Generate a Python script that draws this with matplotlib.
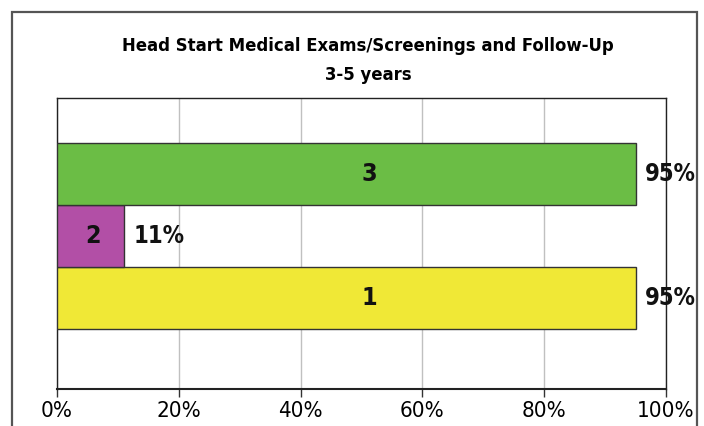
import matplotlib
matplotlib.use('Agg')
import matplotlib.pyplot as plt
import matplotlib.patches as patches
import numpy as np

categories = ["1", "2", "3"]
values = [95, 11, 95]
colors = ["#f0e836", "#b24fa6", "#6bbd45"]
ticks = [0, 20, 40, 60, 80, 100]
tick_labels = ["0%", "20%", "40%", "60%", "80%", "100%"]
title = "Head Start Medical Exams/Screenings and Follow-Up\n3-5 years"

fig = plt.figure(figsize=(7.04, 4.26), dpi=100)
ax = fig.add_axes([0.081, 0.087, 0.865, 0.683])

# outer frame of the chart (runs off the bottom)
fig.patches.append(patches.Rectangle((12/704, -0.1), 685/704, (426-12)/426 + 0.1,
                   transform=fig.transFigure, fill=False, edgecolor="#555555", linewidth=1.6))

y = np.arange(len(categories))
ax.barh(y, values, height=1.0, color=colors, edgecolor="#333333", linewidth=1.0, zorder=3)

for i, v in enumerate(values):
    ax.text(v * 0.54, y[i], categories[i], ha="center", va="center", fontsize=18,
            fontweight="bold", fontstretch="condensed", color="#111111", zorder=4)
    ax.text(v + 1.6, y[i], f"{v}%", ha="left", va="center", fontsize=17,
            fontweight="bold", fontstretch="condensed", color="#111111", zorder=4)

ax.set_xlim(0, 100)
ax.set_ylim(-1.46, 3.23)
ax.set_xticks(ticks)
ax.set_xticklabels(tick_labels, fontstretch="condensed", fontsize=16)
ax.set_yticks([])
ax.tick_params(axis="x", length=6, width=1, color="#333333", pad=3)
ax.grid(axis="x", color="#c0c0c0", linewidth=1, zorder=0)
for s in ax.spines.values():
    s.set_color("#222222")
    s.set_linewidth(1)
ax.spines["bottom"].set_linewidth(1.5)

fig.text(0.523, 0.858, title, ha="center", va="center", fontsize=13.2, fontweight="bold",
         fontstretch="condensed", linespacing=1.75)

fig.savefig("out.png", dpi=100)
